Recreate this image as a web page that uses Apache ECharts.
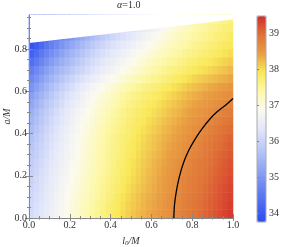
<!DOCTYPE html>
<html><head><meta charset="utf-8">
<script src="https://cdn.jsdelivr.net/npm/echarts@6/dist/echarts.min.js"></script>
<style>html,body{margin:0;padding:0;background:#fff}#c{width:284px;height:247px}</style>
</head><body><div id="c"></div>
<script>
// heatmap cell centres (l0/M and a/M)
const xCells = ['0.0125','0.0375','0.0625','0.0875','0.1125','0.1375','0.1625','0.1875','0.2125','0.2375',
  '0.2625','0.2875','0.3125','0.3375','0.3625','0.3875','0.4125','0.4375','0.4625','0.4875',
  '0.5125','0.5375','0.5625','0.5875','0.6125','0.6375','0.6625','0.6875','0.7125','0.7375',
  '0.7625','0.7875','0.8125','0.8375','0.8625','0.8875','0.9125','0.9375','0.9625','0.9875'];
const yCells = ['0.02','0.06','0.10','0.14','0.18','0.22','0.26','0.30','0.34','0.38','0.42','0.46',
  '0.50','0.54','0.58','0.62','0.66','0.70','0.74','0.78','0.82','0.86','0.90','0.94'];

// values per row (bottom to top)
const r02 = [36.14,36.25,36.36,36.47,36.59,36.70,36.81,36.92,37.03,37.13,37.23,37.33,37.43,37.53,37.63,37.73,37.82,37.91,38.00,38.09,38.16,38.23,38.29,38.36,38.42,38.48,38.55,38.61,38.67,38.73,38.80,38.86,38.92,38.98,39.05,39.11,39.17,39.23,39.30,39.36];
const r06 = [36.11,36.22,36.33,36.44,36.56,36.67,36.78,36.89,37.00,37.10,37.20,37.30,37.40,37.50,37.60,37.70,37.79,37.88,37.97,38.06,38.13,38.20,38.26,38.33,38.39,38.46,38.52,38.59,38.65,38.71,38.78,38.84,38.90,38.96,39.02,39.08,39.14,39.20,39.27,39.33];
const r10 = [36.08,36.19,36.30,36.41,36.53,36.64,36.75,36.86,36.97,37.07,37.17,37.27,37.37,37.47,37.56,37.66,37.75,37.84,37.93,38.02,38.10,38.17,38.24,38.31,38.37,38.44,38.50,38.57,38.63,38.69,38.76,38.82,38.88,38.94,39.00,39.06,39.12,39.18,39.24,39.30];
const r14 = [36.03,36.14,36.26,36.37,36.49,36.60,36.71,36.82,36.93,37.03,37.13,37.23,37.33,37.43,37.52,37.62,37.71,37.80,37.89,37.98,38.06,38.13,38.20,38.27,38.34,38.41,38.48,38.55,38.61,38.67,38.74,38.80,38.86,38.92,38.98,39.04,39.10,39.16,39.21,39.27];
const r18 = [35.98,36.10,36.22,36.34,36.46,36.57,36.68,36.79,36.90,37.00,37.09,37.19,37.29,37.38,37.48,37.57,37.66,37.75,37.84,37.93,38.01,38.09,38.16,38.24,38.32,38.39,38.46,38.53,38.59,38.65,38.72,38.78,38.84,38.90,38.95,39.01,39.07,39.13,39.18,39.24];
const r22 = [35.93,36.05,36.18,36.30,36.42,36.53,36.64,36.75,36.86,36.96,37.06,37.16,37.26,37.35,37.45,37.54,37.63,37.72,37.81,37.90,37.98,38.06,38.13,38.21,38.29,38.36,38.43,38.50,38.56,38.62,38.69,38.75,38.81,38.87,38.92,38.98,39.04,39.09,39.15,39.20];
const r26 = [35.87,36.00,36.12,36.25,36.37,36.49,36.60,36.72,36.83,36.93,37.03,37.13,37.23,37.33,37.42,37.52,37.61,37.70,37.78,37.87,37.95,38.03,38.10,38.18,38.26,38.33,38.40,38.47,38.53,38.59,38.66,38.72,38.78,38.84,38.89,38.95,39.01,39.06,39.12,39.17];
const r30 = [35.82,35.95,36.08,36.21,36.33,36.45,36.56,36.68,36.79,36.90,37.00,37.11,37.21,37.31,37.40,37.50,37.59,37.67,37.76,37.84,37.92,38.00,38.07,38.15,38.22,38.29,38.36,38.43,38.49,38.55,38.62,38.68,38.74,38.80,38.86,38.92,38.98,39.03,39.08,39.13];
const r34 = [35.74,35.88,36.01,36.15,36.28,36.40,36.52,36.64,36.76,36.87,36.98,37.09,37.19,37.29,37.38,37.48,37.57,37.65,37.73,37.81,37.89,37.96,38.04,38.11,38.18,38.25,38.32,38.39,38.45,38.51,38.58,38.64,38.70,38.76,38.82,38.88,38.94,38.99,39.04,39.09];
const r38 = [35.66,35.81,35.95,36.10,36.23,36.36,36.48,36.61,36.73,36.84,36.95,37.06,37.16,37.26,37.36,37.46,37.55,37.63,37.70,37.78,37.86,37.93,38.01,38.08,38.15,38.21,38.28,38.34,38.40,38.46,38.53,38.59,38.65,38.71,38.78,38.84,38.90,38.95,39.00,39.05];
const r42 = [35.58,35.73,35.88,36.03,36.17,36.30,36.43,36.56,36.68,36.79,36.90,37.01,37.12,37.22,37.32,37.42,37.51,37.59,37.66,37.74,37.82,37.89,37.96,38.03,38.10,38.16,38.23,38.29,38.35,38.41,38.48,38.54,38.60,38.66,38.72,38.78,38.84,38.89,38.94,38.99];
const r46 = [35.48,35.64,35.79,35.95,36.10,36.23,36.36,36.49,36.62,36.73,36.84,36.95,37.06,37.16,37.26,37.36,37.45,37.53,37.62,37.70,37.77,37.84,37.91,37.98,38.04,38.10,38.17,38.23,38.29,38.35,38.42,38.48,38.54,38.59,38.65,38.70,38.76,38.81,38.86,38.91];
const r50 = [35.38,35.54,35.71,35.87,36.02,36.16,36.29,36.43,36.56,36.67,36.78,36.89,37.00,37.10,37.20,37.30,37.39,37.48,37.57,37.66,37.73,37.79,37.86,37.92,37.98,38.04,38.11,38.17,38.23,38.29,38.36,38.42,38.48,38.53,38.58,38.63,38.68,38.73,38.78,38.83];
const r54 = [35.24,35.41,35.58,35.75,35.90,36.04,36.19,36.33,36.46,36.58,36.69,36.81,36.92,37.02,37.12,37.22,37.31,37.40,37.49,37.58,37.65,37.71,37.78,37.84,37.90,37.96,38.03,38.09,38.15,38.21,38.28,38.34,38.40,38.45,38.50,38.55,38.59,38.64,38.68,38.73];
const r58 = [35.11,35.28,35.45,35.62,35.78,35.93,36.08,36.23,36.36,36.48,36.61,36.73,36.84,36.94,37.04,37.14,37.23,37.32,37.41,37.50,37.57,37.63,37.70,37.76,37.82,37.88,37.95,38.01,38.07,38.13,38.20,38.26,38.32,38.37,38.42,38.47,38.51,38.55,38.59,38.63];
const r62 = [34.95,35.12,35.30,35.47,35.63,35.78,35.93,36.08,36.21,36.34,36.46,36.59,36.70,36.80,36.90,37.00,37.09,37.18,37.27,37.36,37.43,37.50,37.57,37.64,37.70,37.76,37.83,37.89,37.95,38.01,38.08,38.14,38.20,38.25,38.30,38.35,38.39,38.43,38.47,38.51];
const r66 = [34.77,34.94,35.12,35.29,35.45,35.59,35.74,35.88,36.01,36.14,36.26,36.39,36.50,36.60,36.70,36.80,36.89,36.98,37.07,37.16,37.24,37.32,37.39,37.47,37.54,37.60,37.67,37.73,37.79,37.85,37.92,37.98,38.04,38.09,38.14,38.19,38.23,38.28,38.32,38.37];
const r70 = [34.59,34.76,34.94,35.11,35.27,35.41,35.54,35.68,35.81,35.94,36.06,36.19,36.30,36.40,36.50,36.60,36.69,36.78,36.87,36.96,37.04,37.13,37.22,37.31,37.38,37.44,37.51,37.57,37.63,37.69,37.76,37.82,37.88,37.93,37.98,38.03,38.08,38.13,38.18,38.23];
const r74 = [34.35,34.54,34.72,34.91,35.07,35.21,35.36,35.50,35.64,35.77,35.90,36.03,36.14,36.25,36.35,36.46,36.55,36.64,36.73,36.82,36.90,36.99,37.08,37.17,37.24,37.31,37.38,37.45,37.51,37.57,37.64,37.70,37.76,37.81,37.86,37.91,37.96,38.01,38.06,38.11];
const r78 = [34.12,34.31,34.51,34.70,34.87,35.02,35.17,35.32,35.46,35.59,35.73,35.86,35.99,36.10,36.21,36.32,36.41,36.50,36.59,36.68,36.76,36.85,36.94,37.03,37.11,37.18,37.25,37.32,37.39,37.45,37.52,37.58,37.64,37.69,37.74,37.79,37.84,37.89,37.94,37.99];
const r82 = [33.86,34.06,34.26,34.46,34.64,34.79,34.95,35.10,35.25,35.39,35.53,35.67,35.80,35.91,36.03,36.14,36.25,36.34,36.43,36.52,36.61,36.70,36.79,36.88,36.96,37.04,37.12,37.20,37.27,37.34,37.40,37.47,37.53,37.58,37.63,37.68,37.74,37.79,37.84,37.89];
const r86 = [33.75,33.78,33.98,34.18,34.36,34.53,34.69,34.86,35.01,35.16,35.30,35.45,35.58,35.70,35.82,35.94,36.05,36.14,36.24,36.33,36.43,36.52,36.62,36.71,36.81,36.90,36.99,37.08,37.16,37.23,37.30,37.37,37.43,37.49,37.54,37.60,37.66,37.71,37.76,37.81];
const r90 = [33.75,33.75,33.75,33.90,34.09,34.26,34.44,34.61,34.78,34.93,35.08,35.23,35.36,35.49,35.61,35.74,35.85,35.95,36.05,36.15,36.25,36.35,36.45,36.55,36.65,36.75,36.85,36.95,37.04,37.11,37.19,37.26,37.33,37.39,37.46,37.52,37.58,37.63,37.68,37.73];
const r94 = [33.75,33.75,33.75,33.75,33.81,34.00,34.18,34.37,34.54,34.69,34.85,35.00,35.15,35.28,35.41,35.54,35.65,35.76,35.86,35.97,36.07,36.18,36.28,36.39,36.50,36.61,36.72,36.83,36.92,37.00,37.08,37.16,37.23,37.30,37.37,37.44,37.50,37.55,37.60,37.65];
const rows = [r02,r06,r10,r14,r18,r22,r26,r30,r34,r38,r42,r46,r50,r54,r58,r62,r66,r70,r74,r78,r82,r86,r90,r94];

// upper edge of the domain (white above)
const edgeX = [0, 1];
const edgeY = [0.829, 0.94];
// black contour
const contourX = [0.710,0.713,0.722,0.737,0.757,0.782,0.812,0.848,0.888,0.925,0.962,1.0];
const contourY = [0.000,0.060,0.125,0.195,0.260,0.318,0.370,0.422,0.470,0.505,0.533,0.566];

// ticks
const xMajor = [0,0.2,0.4,0.6,0.8,1.0];
const xMinor = [0.05,0.1,0.15,0.25,0.3,0.35,0.45,0.5,0.55,0.65,0.7,0.75,0.85,0.9,0.95];
const yMajor = [0,0.2,0.4,0.6,0.8];
const yMinor = [0.05,0.1,0.15,0.25,0.3,0.35,0.45,0.5,0.55,0.65,0.7,0.75,0.85,0.9,0.95];
const cbarTicks = [34,35,36,37,38,39];
const cbarMin = 33.75, cbarMax = 39.47;
const yMax = 0.961;
const colors = ['#2c4cf0','#4c6af0','#7089f1','#97acf3','#bfcbf7','#e3e7fa','#fbfaf0','#fdf8a8','#f9e858','#e99e42','#df7237','#d42b2b'];

const FONT = 'Liberation Serif';
const TXT = '#333';
const AX = '#888';

function tickAxis(kind, pos, values, len, opts) {
  return Object.assign({
    type: 'value', gridIndex: 1, position: pos,
    min: 0, max: kind === 'x' ? 1 : yMax,
    axisLine: {show: false},
    axisTick: {show: true, inside: true, length: len, customValues: values, lineStyle: {color: AX, width: 1}},
    axisLabel: {show: false},
    splitLine: {show: false},
    z: 10
  }, opts || {});
}

const data = [];
rows.forEach((row, j) => row.forEach((v, i) => data.push([i, j, v])));

const chart = echarts.init(document.getElementById('c'), null, {renderer: 'canvas'});
chart.setOption({
  animation: false,
  backgroundColor: '#fff',
  title: {
    text: '{i|α}=1.0', left: 117, top: 0, padding: 0,
    textStyle: {fontFamily: FONT, fontSize: 10, color: TXT, fontWeight: 'normal',
      rich: {i: {fontFamily: FONT, fontSize: 10, color: TXT, fontStyle: 'italic'}}}
  },
  grid: [
    {left: 29, top: 15, width: 204, height: 203, outerBoundsMode: 'none', containLabel: false},
    {left: 29, top: 15, width: 204, height: 203, outerBoundsMode: 'none', containLabel: false},
    {left: 257, top: 16, width: 9, height: 206, outerBoundsMode: 'none', containLabel: false,
     show: true, backgroundColor: 'transparent', borderColor: '#aaa', borderWidth: 1, z: 10}
  ],
  xAxis: [
    tickAxis('x', 'bottom', xMajor, 4, {
      axisLine: {show: true, lineStyle: {color: AX, width: 1}},
      axisLabel: {show: true, customValues: xMajor, formatter: v => v.toFixed(1), margin: 2, fontFamily: FONT, fontSize: 10, color: TXT},
      name: '{i|l}{s|0}{i|/M}', nameLocation: 'middle', nameGap: 17,
      nameTextStyle: {fontFamily: FONT, fontSize: 10, color: TXT,
        rich: {i: {fontFamily: FONT, fontSize: 10, fontStyle: 'italic', color: TXT},
               s: {fontFamily: FONT, fontSize: 7, fontStyle: 'italic', color: TXT, verticalAlign: 'bottom', padding: [5,0,0,0]}}}
    }),
    tickAxis('x', 'bottom', xMinor, 2),
    tickAxis('x', 'top', xMajor, 3),
    tickAxis('x', 'top', xMinor, 1.5),
    {type: 'category', gridIndex: 0, data: xCells, show: false},
    {type: 'value', gridIndex: 2, show: false, min: 0, max: 1}
  ],
  yAxis: [
    tickAxis('y', 'left', yMajor, 4, {
      axisLine: {show: true, lineStyle: {color: AX, width: 1}},
      axisLabel: {show: true, customValues: yMajor, formatter: v => v.toFixed(1), margin: 2, fontFamily: FONT, fontSize: 10, color: TXT},
      name: 'a/M', nameLocation: 'middle', nameGap: 22, nameRotate: 90, nameMoveOverlap: false,
      nameTextStyle: {fontFamily: FONT, fontSize: 10, fontStyle: 'italic', color: TXT, verticalAlign: 'middle'}
    }),
    tickAxis('y', 'left', yMinor, 2),
    tickAxis('y', 'right', yMajor, 4),
    tickAxis('y', 'right', yMinor, 2),
    {type: 'category', gridIndex: 0, data: yCells, show: false},
    {type: 'value', gridIndex: 2, position: 'right', min: cbarMin, max: cbarMax,
     axisLine: {show: false}, splitLine: {show: false},
     axisTick: {show: true, inside: false, length: 2, customValues: cbarTicks, lineStyle: {color: AX}},
     axisLabel: {show: true, customValues: cbarTicks, margin: 3, fontFamily: FONT, fontSize: 10, color: TXT},
     z: 10}
  ],
  visualMap: {
    type: 'continuous', seriesIndex: 0, min: cbarMin, max: cbarMax,
    inRange: {color: colors}, calculable: false, hoverLink: false,
    left: 257, top: 16, itemWidth: 9, itemHeight: 206, padding: 0, text: null
  },
  series: [
    {type: 'heatmap', xAxisIndex: 4, yAxisIndex: 4, data: data, itemStyle: {borderWidth: 0}, emphasis: {disabled: true}, silent: true},
    {type: 'line', xAxisIndex: 0, yAxisIndex: 0, data: edgeX.map((x, k) => [x, edgeY[k]]),
     symbol: 'none', lineStyle: {width: 0}, areaStyle: {color: '#fff', opacity: 1, origin: 'end'}, silent: true, z: 3},
    {type: 'line', xAxisIndex: 0, yAxisIndex: 0, data: contourX.map((x, k) => [x, contourY[k]]),
     symbol: 'none', smooth: 0.3, lineStyle: {color: '#000', width: 1.3}, silent: true, z: 4}
  ]
});
</script></body></html>
